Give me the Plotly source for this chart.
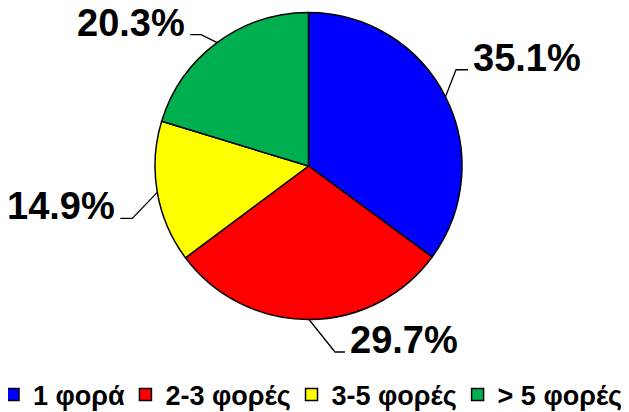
import math
import plotly.graph_objects as go

# slice data, clockwise from 12 o'clock
labels = ["1 φορά", "2-3 φορές", "3-5 φορές", "> 5 φορές"]
values = [35.1, 29.7, 14.9, 20.3]
colors = ["#0000FF", "#FF0000", "#FFFF00", "#00B050"]

W, H = 629, 412
OFF = 8  # page body margin in the browser
# pie geometry in pixels
cx, cy, r = 308.5 - OFF, 166.0 - OFF, 153.5
# leader line: elbow offset from edge point, then short horizontal tick
elbow = [(10.5, -27), (26, 32.5), (-25, 26), (-16, -8)]
tick = [12, 10, 12, 11]
font = "Liberation Sans, Arial, sans-serif"


def px(x, y):
    return x / W, 1 - y / H


# thin spaces after the legend entries to widen the gap between them
legend_names = [l + "\u2009\u2009" for l in labels[:-1]] + labels[-1:]

fig = go.Figure(go.Pie(
    labels=legend_names, values=values, sort=False,
    direction="clockwise", rotation=0,
    marker=dict(colors=colors, line=dict(color="black", width=1.5)),
    textinfo="none", hoverinfo="label+percent",
    domain=dict(x=[(cx - r) / W, (cx + r) / W], y=[1 - (cy + r) / H, 1 - (cy - r) / H]),
))

total = sum(values)
acc = 0
shapes, annots = [], []
for i, v in enumerate(values):
    mid = (acc + v / 2) / total * 2 * math.pi
    acc += v
    ex, ey = cx + r * math.sin(mid), cy - r * math.cos(mid)
    bx, by = ex + elbow[i][0], ey + elbow[i][1]
    side = 1 if elbow[i][0] > 0 else -1
    tx = bx + side * tick[i]
    pts = [px(ex, ey), px(bx, by), px(tx, by)]
    shapes.append(dict(type="path", xref="paper", yref="paper",
                       path="M %f %f L %f %f L %f %f" % (pts[0] + pts[1] + pts[2]),
                       line=dict(color="black", width=1.3)))
    lx, ly = px(tx + side * 3, by - 12)
    annots.append(dict(text="%.1f%%" % v, x=lx, y=ly, xref="paper", yref="paper",
                       xanchor="left" if side > 0 else "right", yanchor="middle",
                       showarrow=False, font=dict(family=font, size=38, color="black", weight="bold")))

fig.update_layout(
    width=W, height=H, margin=dict(l=0, r=0, t=0, b=0),
    paper_bgcolor="white", plot_bgcolor="white",
    shapes=shapes, annotations=annots,
    showlegend=True,
    legend=dict(orientation="h", x=0, y=1 - (395 - OFF) / H,
                xanchor="left", yanchor="middle", indentation=-15,
                font=dict(family=font, size=27, color="black", weight="bold"),
                traceorder="normal"),
)

fig.write_html("out.html")
